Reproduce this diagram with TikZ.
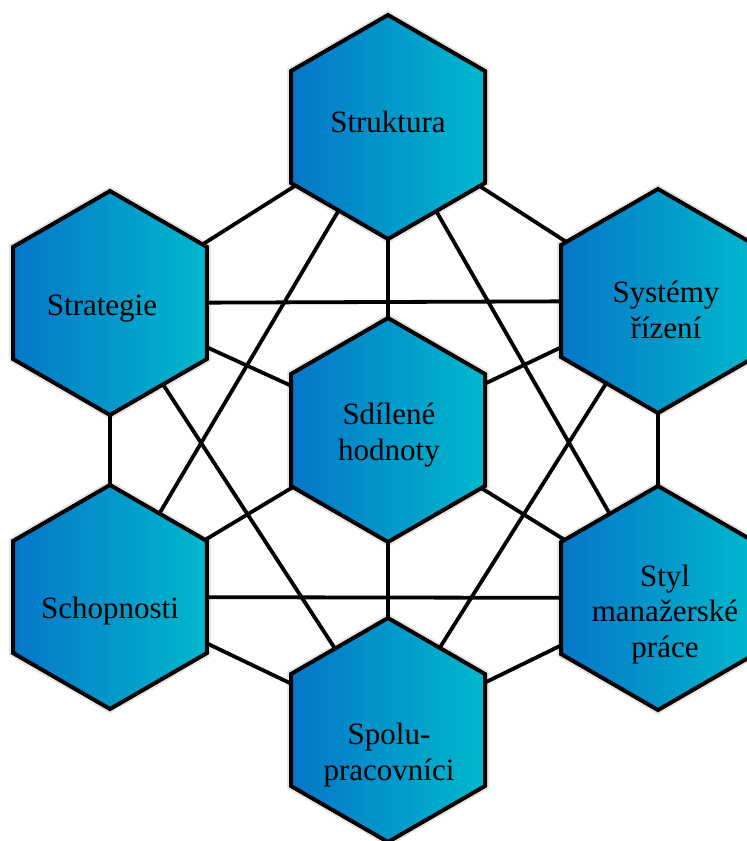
\documentclass[tikz,border=0pt]{standalone}
\usepackage{fontspec}
\setmainfont{Liberation Serif}
\usetikzlibrary{shapes.geometric}

\definecolor{hexleft}{RGB}{6,118,200}
\definecolor{hexright}{RGB}{0,184,204}

\tikzset{
  hexcell/.style={regular polygon, regular polygon sides=6, shape border rotate=30,
    minimum size=224pt, inner sep=0pt, outer sep=0pt,
    left color=hexleft, right color=hexright, draw=black, line width=4pt,
    line join=miter,
    preaction={draw=black, line width=8pt, draw opacity=0.10}},
  link/.style={draw=black, line width=3.8pt},
  hextext/.style={anchor=base, align=center, inner sep=0pt,
    font=\fontsize{31}{35.5}\selectfont}
}

\begin{document}
\begin{tikzpicture}[x=1pt, y=-1pt]
  \useasboundingbox (0,0) rectangle (747,841);
  \fill[white] (0,0) rectangle (747,841);

  % cell centres
  \coordinate (struktura)  at (388,127);
  \coordinate (hodnoty)    at (388,430);
  \coordinate (spolu)      at (388,730);
  \coordinate (strategie)  at (110,303);
  \coordinate (schopnosti) at (110,597);
  \coordinate (systemy)    at (658,301);
  \coordinate (styl)       at (658,598);

  % every pair of cells is linked
  \foreach \a/\b in {struktura/strategie, strategie/schopnosti, schopnosti/spolu,
                     spolu/styl, styl/systemy, systemy/struktura,
                     struktura/schopnosti, struktura/styl, strategie/systemy,
                     strategie/spolu, systemy/spolu, schopnosti/styl,
                     hodnoty/struktura, hodnoty/spolu, hodnoty/strategie,
                     hodnoty/schopnosti, hodnoty/systemy, hodnoty/styl}
    \draw[link] (\a) -- (\b);

  % hexagonal cells
  \foreach \c in {struktura, hodnoty, spolu, strategie, schopnosti, systemy, styl}
    \node[hexcell] (hex-\c) at (\c) {};

  % labels (base anchor sits on the last line)
  \node[hextext] (t-struktura)  at (388,132) {Struktura};
  \node[hextext] (t-hodnoty)    at (389,460) {Sdílené\\hodnoty};
  \node[hextext] (t-spolu)      at (389,780) {Spolu-\\pracovníci};
  \node[hextext] (t-strategie)  at (102,315) {Strategie};
  \node[hextext] (t-schopnosti) at (110,618) {Schopnosti};
  \node[hextext] (t-systemy)    at (666,338) {Systémy\\řízení};
  \node[hextext] (t-styl)       at (665,657) {Styl\\manažerské\\práce};
\end{tikzpicture}
\end{document}
